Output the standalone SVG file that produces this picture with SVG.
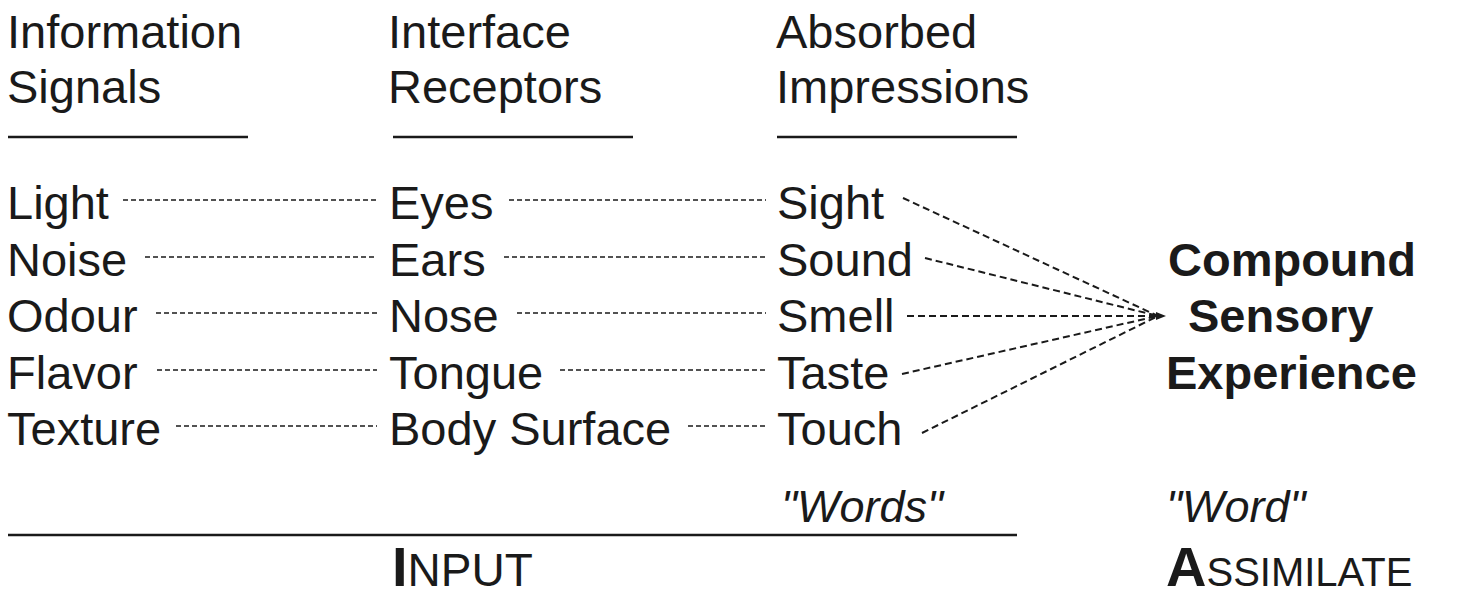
<svg xmlns="http://www.w3.org/2000/svg" width="1458" height="596" viewBox="0 0 1458 596">
<style>
text{font-family:"Liberation Sans",Arial,sans-serif;font-size:47px;fill:#1a1a1a}
.b{font-weight:bold}
.i{font-style:italic;font-size:45px}
.rule{stroke:#1a1a1a;stroke-width:2.5}
.dash{stroke:#1a1a1a;stroke-width:1.6;stroke-dasharray:5 3;fill:none}
.fan{stroke:#1a1a1a;stroke-width:2;stroke-dasharray:7 4;fill:none}
</style>
<defs>
<marker id="ah" viewBox="0 0 10 10" refX="2" refY="5" markerWidth="10" markerHeight="10" markerUnits="userSpaceOnUse" orient="auto">
<path d="M0,1 L10,5 L0,9 z" fill="#1a1a1a"/>
</marker>
</defs>
<rect width="1458" height="596" fill="#fff"/>
<g id="headers">
<g id="h-signals"><text x="7" y="48">Information</text><text x="7" y="103">Signals</text><line class="rule" x1="8" y1="137" x2="248" y2="137"/></g>
<g id="h-receptors"><text x="388" y="48">Interface</text><text x="388" y="103">Receptors</text><line class="rule" x1="393" y1="137" x2="633" y2="137"/></g>
<g id="h-impressions"><text x="776" y="48">Absorbed</text><text x="776" y="103">Impressions</text><line class="rule" x1="777" y1="137" x2="1017" y2="137"/></g>
</g>
<g id="connectors">
<line class="dash" x1="123" y1="200" x2="377" y2="200"/>
<line class="dash" x1="145" y1="257" x2="377" y2="257"/>
<line class="dash" x1="156" y1="313" x2="377" y2="313"/>
<line class="dash" x1="157" y1="370" x2="377" y2="370"/>
<line class="dash" x1="176" y1="426" x2="377" y2="426"/>
<line class="dash" x1="509" y1="200" x2="766" y2="200"/>
<line class="dash" x1="504" y1="257" x2="766" y2="257"/>
<line class="dash" x1="517" y1="313" x2="766" y2="313"/>
<line class="dash" x1="560" y1="370" x2="766" y2="370"/>
<line class="dash" x1="688" y1="426" x2="766" y2="426"/>
<line class="fan" x1="903" y1="198" x2="1158" y2="316"/>
<line class="fan" x1="925" y1="258" x2="1158" y2="316"/>
<line class="fan" x1="907" y1="316" x2="1158" y2="316" marker-end="url(#ah)"/>
<line class="fan" x1="902" y1="374" x2="1158" y2="316"/>
<line class="fan" x1="922" y1="433" x2="1158" y2="316"/>
</g>
<g id="col-signals">
<text x="7" y="219">Light</text>
<text x="7" y="276">Noise</text>
<text x="7" y="332">Odour</text>
<text x="7" y="389">Flavor</text>
<text x="7" y="445">Texture</text>
</g>
<g id="col-receptors">
<text x="389" y="219">Eyes</text>
<text x="389" y="276">Ears</text>
<text x="389" y="332">Nose</text>
<text x="389" y="389">Tongue</text>
<text x="389" y="445">Body Surface</text>
</g>
<g id="col-impressions">
<text x="777" y="219">Sight</text>
<text x="777" y="276">Sound</text>
<text x="777" y="332">Smell</text>
<text x="777" y="389">Taste</text>
<text x="777" y="445">Touch</text>
</g>
<g id="compound">
<text class="b" x="1168" y="276">Compound</text>
<text class="b" x="1188" y="332">Sensory</text>
<text class="b" x="1166" y="389">Experience</text>
</g>
<g id="words"><text class="i" x="781" y="522">"Words"</text></g>
<g id="word"><text class="i" x="1166" y="522">"Word"</text></g>
<line class="rule" x1="8" y1="535" x2="1017" y2="535"/>
<g id="input"><text x="392" y="586"><tspan class="b" font-size="56">I</tspan><tspan font-size="46">NPUT</tspan></text></g>
<g id="assimilate"><text x="1166" y="586"><tspan class="b" font-size="56">A</tspan><tspan font-size="40">SSIMILATE</tspan></text></g>
</svg>
